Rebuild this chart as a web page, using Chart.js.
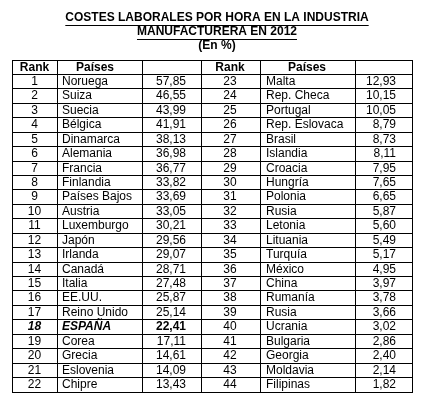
<!DOCTYPE html>
<html><head><meta charset="utf-8">
<script src="https://cdn.jsdelivr.net/npm/chart.js@4"></script>
<style>html,body{margin:0;padding:0;background:#fff}#w{width:421px;height:401px}</style>
</head><body><div id="w"><canvas id="c"></canvas></div>
<script>
const titleLines = ["COSTES LABORALES POR HORA EN LA INDUSTRIA", "MANUFACTURERA EN 2012", "(En %)"];
const headers = ["Rank", "Países", "", "Rank", "Países", ""];
const ranks1 = [1,2,3,4,5,6,7,8,9,10,11,12,13,14,15,16,17,18,19,20,21,22];
const countries1 = ["Noruega","Suiza","Suecia","Bélgica","Dinamarca","Alemania","Francia","Finlandia","Países Bajos","Austria","Luxemburgo","Japón","Irlanda","Canadá","Italia","EE.UU.","Reino Unido","ESPAÑA","Corea","Grecia","Eslovenia","Chipre"];
const values1 = ["57,85","46,55","43,99","41,91","38,13","36,98","36,77","33,82","33,69","33,05","30,21","29,56","29,07","28,71","27,48","25,87","25,14","22,41","17,11","14,61","14,09","13,43"];
const ranks2 = [23,24,25,26,27,28,29,30,31,32,33,34,35,36,37,38,39,40,41,42,43,44];
const countries2 = ["Malta","Rep. Checa","Portugal","Rep. Eslovaca","Brasil","Islandia","Croacia","Hungría","Polonia","Rusia","Letonia","Lituania","Turquía","México","China","Rumanía","Rusia","Ucrania","Bulgaria","Georgia","Moldavia","Filipinas"];
const values2 = ["12,93","10,15","10,05","8,79","8,73","8,11","7,95","7,65","6,65","5,87","5,60","5,49","5,17","4,95","3,97","3,78","3,66","3,02","2,86","2,40","2,14","1,82"];
const highlightRank = 18;
const colEdges = [0,45,130,189,248,343,400];

const FONT = '"Liberation Sans", Arial, sans-serif';
const tablePlugin = {
  id:'tablePlugin',
  afterDraw(chart){
    const ctx = chart.ctx, xs = chart.scales.x, ys = chart.scales.y;
    ctx.save();
    ctx.fillStyle = '#000'; ctx.strokeStyle='#000';
    ctx.textBaseline='middle';
    ctx.textAlign='center';
    const cx = 217;
    ctx.font = 'bold 12px ' + FONT;
    [18,32].forEach((yy,i)=>{
      ctx.fillText(titleLines[i], cx, yy);
      const w = ctx.measureText(titleLines[i]).width;
      ctx.lineWidth=1; ctx.beginPath(); ctx.moveTo(cx-w/2, yy+7.5); ctx.lineTo(cx+w/2, yy+7.5); ctx.stroke();
    });
    ctx.fillText(titleLines[2], cx, 46);
    const yc = r => ys.getPixelForValue(r+0.5);
    const xp = v => xs.getPixelForValue(v);
    ctx.font = 'bold 12px ' + FONT;
    ctx.fillText(headers[0], xp(22.5), yc(0));
    ctx.fillText(headers[1], xp(83), yc(0));
    ctx.fillText(headers[3], xp(218), yc(0));
    ctx.fillText(headers[4], xp(295), yc(0));
    for (let i=0;i<ranks1.length;i++){
      const y = yc(i+1);
      const hl = ranks1[i]===highlightRank;
      ctx.font = (hl?'italic bold ':'') + '12px ' + FONT;
      ctx.textAlign='center'; ctx.fillText(String(ranks1[i]), xp(22.5), y);
      ctx.textAlign='left'; ctx.fillText(countries1[i], xp(50), y);
      ctx.font = (hl?'bold ':'') + '12px ' + FONT;
      ctx.textAlign='right'; ctx.fillText(values1[i], xp(174), y);
      ctx.font = '12px ' + FONT;
      ctx.textAlign='center'; ctx.fillText(String(ranks2[i]), xp(218), y);
      ctx.textAlign='left'; ctx.fillText(countries2[i], xp(254), y);
      ctx.textAlign='right'; ctx.fillText(values2[i], xp(384), y);
    }
    ctx.restore();
  }
};
new Chart(document.getElementById('c'), {
  type:'scatter',
  data:{datasets:[{data:[]}]},
  options:{
    responsive:true, maintainAspectRatio:false, animation:false,
    layout:{padding:{top:60,left:12,right:9,bottom:9}},
    plugins:{legend:{display:false},tooltip:{enabled:false}},
    scales:{
      x:{type:'linear',min:0,max:400,
        afterBuildTicks:s=>{s.ticks=colEdges.map(v=>({value:v}));},
        ticks:{display:false},
        grid:{color:'#000',lineWidth:1,drawTicks:false},
        border:{color:'#000',width:1}},
      y:{type:'linear',min:0,max:23,reverse:true,
        afterBuildTicks:s=>{s.ticks=Array.from({length:24},(_,i)=>({value:i}));},
        ticks:{display:false},
        grid:{color:'#000',lineWidth:1,drawTicks:false},
        border:{color:'#000',width:1}}
    }
  },
  plugins:[tablePlugin]
});
</script></body></html>
